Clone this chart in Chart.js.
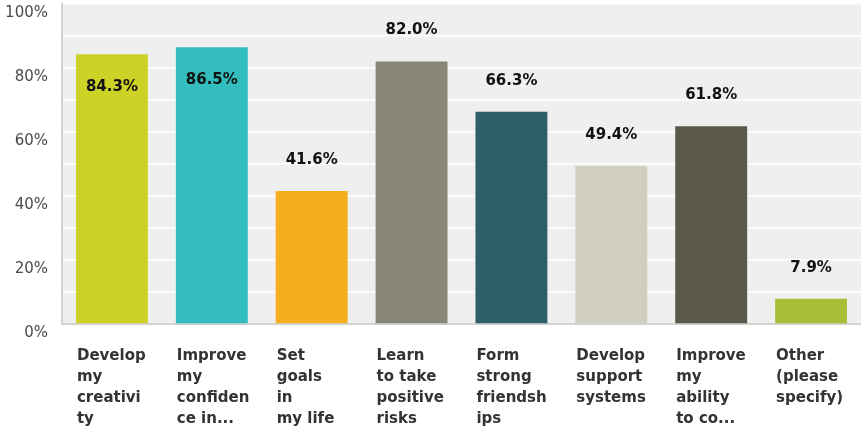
<!DOCTYPE html>
<html>
<head>
<meta charset="utf-8">
<script src="https://cdn.jsdelivr.net/npm/chart.js@4"></script>
<style>
  html, body { margin: 0; padding: 0; background: #ffffff; }
  #wrap { width: 861px; height: 427px; position: relative; }
</style>
</head>
<body>
<div id="wrap"><canvas id="chart"></canvas></div>
<script>
// ── Survey answers (wrapped the way they are printed under each bar) ─────────
const categories = [
  ["Develop", "my", "creativi", "ty"],
  ["Improve", "my", "confiden", "ce in..."],
  ["Set", "goals", "in", "my life"],
  ["Learn", "to take", "positive", "risks"],
  ["Form", "strong", "friendsh", "ips"],
  ["Develop", "support", "systems"],
  ["Improve", "my", "ability", "to co..."],
  ["Other", "(please", "specify)"]
];

// Share of respondents, in percent
const responses = [84.3, 86.5, 41.6, 82.0, 66.3, 49.4, 61.8, 7.9];

const barColors = [
  "#cdd326", "#33bdbf", "#f6ae1f", "#888776",
  "#2e5e69", "#d0cebe", "#5b5a4a", "#aabd39"
];

// Y axis: grid every 10, labels every 20
const yTickValues = [0, 10, 20, 30, 40, 50, 60, 70, 80, 90, 100];
const yLabelledTicks = [0, 20, 40, 60, 80, 100];

// ── Plugins ──────────────────────────────────────────────────────────────────
// Grey panel behind the plot area
const plotBackground = {
  id: "plotBackground",
  beforeDraw(chart) {
    const { ctx, chartArea: a } = chart;
    ctx.save();
    ctx.fillStyle = "#efefef";
    ctx.fillRect(a.left, a.top - 1, a.right - a.left, a.bottom - a.top + 1);
    ctx.restore();
  }
};

// Percentage over each bar; tall bars get it tucked inside the top
const valueLabels = {
  id: "valueLabels",
  afterDatasetsDraw(chart) {
    const { ctx } = chart;
    const meta = chart.getDatasetMeta(0);
    ctx.save();
    ctx.font = "bold 15px 'DejaVu Sans'";
    ctx.fillStyle = "#111111";
    ctx.textAlign = "center";
    ctx.textBaseline = "middle";
    meta.data.forEach((bar, i) => {
      const text = responses[i].toFixed(1) + "%";
      const above = bar.y - 31;
      const y = above < 25 ? bar.y + 33 : above;
      ctx.fillText(text, bar.x, y);
    });
    ctx.restore();
  }
};

// Stop the axes from reserving room for half-labels at their ends
function noEdgePadding(scale) {
  scale.paddingLeft = 0;
  scale.paddingRight = 0;
  scale.paddingTop = 0;
  scale.paddingBottom = 0;
}

new Chart(document.getElementById("chart").getContext("2d"), {
  type: "bar",
  data: {
    labels: categories,
    datasets: [{
      data: responses,
      backgroundColor: barColors,
      borderWidth: 0,
      barPercentage: 0.72,
      categoryPercentage: 1.0
    }]
  },
  options: {
    responsive: true,
    maintainAspectRatio: false,
    animation: false,
    layout: { padding: { top: 4, right: 0, left: 0, bottom: 0 } },
    plugins: {
      legend: { display: false },
      tooltip: { enabled: false }
    },
    scales: {
      x: {
        grid: { display: false, drawTicks: false },
        border: { display: true, color: "#d2d2d2", width: 2 },
        afterFit: scale => { scale.height = 103; noEdgePadding(scale); },
        ticks: {
          autoSkip: false,
          maxRotation: 0,
          minRotation: 0,
          align: "start",
          labelOffset: -35,
          padding: 22,
          color: "#333333",
          font: { family: "'DejaVu Sans'", size: 15, weight: "bold", lineHeight: 1.4 }
        }
      },
      y: {
        min: 0,
        max: 100,
        afterFit: scale => { scale.width = 62; noEdgePadding(scale); },
        afterBuildTicks: scale => { scale.ticks = yTickValues.map(v => ({ value: v })); },
        grid: { color: "#ffffff", lineWidth: 1.5, drawTicks: false },
        border: { display: true, color: "#d2d2d2", width: 2 },
        ticks: {
          padding: 14,
          labelOffset: 9,
          color: "#4a4a4a",
          font: { family: "'DejaVu Sans'", size: 15 },
          callback: v => yLabelledTicks.includes(v) ? v + "%" : ""
        }
      }
    }
  },
  plugins: [plotBackground, valueLabels]
});
</script>
</body>
</html>
